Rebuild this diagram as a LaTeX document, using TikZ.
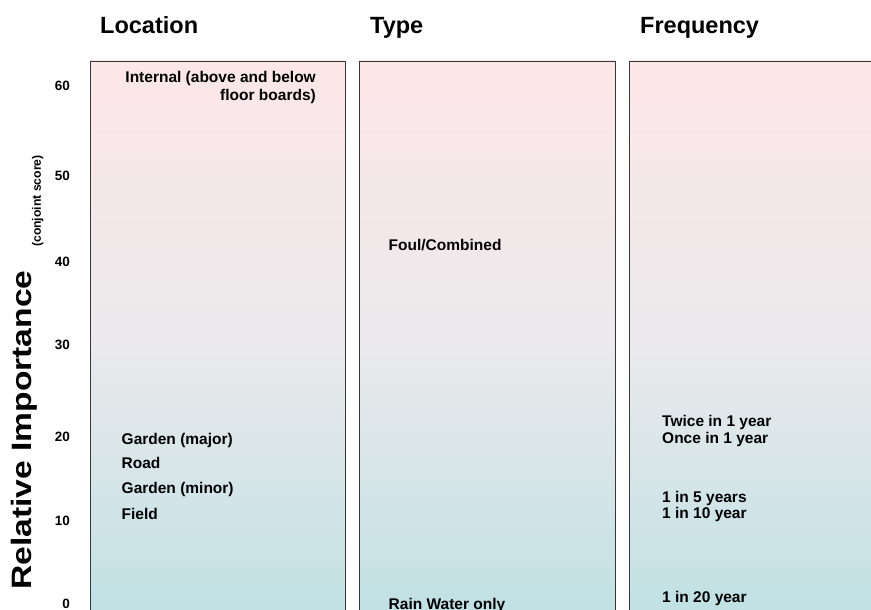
\documentclass[tikz,border=0pt]{standalone}
\usepackage{fontspec}
\setmainfont{Liberation Sans}
\usetikzlibrary{calc}
\definecolor{topc}{RGB}{253,231,232}
\definecolor{midc}{RGB}{234,233,236}
\definecolor{botc}{RGB}{188,224,227}
\definecolor{edgec}{RGB}{55,55,55}
\tikzset{
  panel/.style={draw=edgec, line width=0.9pt, top color=topc, bottom color=botc, middle color=midc},
  title/.style={font=\fontsize{23.5}{26}\selectfont\bfseries, anchor=base west, inner sep=0pt},
  lbl/.style={font=\fontsize{15.5}{17.6}\selectfont\bfseries, anchor=base west, inner sep=0pt},
  tick/.style={font=\fontsize{13.5}{15}\selectfont\bfseries, anchor=base east, inner sep=0pt},
}
\begin{document}
\begin{tikzpicture}[x=1pt,y=-1pt]
\useasboundingbox (0,0) rectangle (871,610);
\clip (0,0) rectangle (871,610);
% panels
\path[panel] (90,61) rectangle (345,640);
\path[panel] (359.5,61) rectangle (615,640);
\path[panel] (629.5,61) rectangle (900,640);
% titles
\node[title] (tloc) at (100,34) {Location};
\node[title] (ttype) at (370,34) {Type};
\node[title] (tfreq) at (640,34) {Frequency};
% axis
\node[tick] (t60) at (70,90.8) {60};
\node[tick] (t50) at (70,180.8) {50};
\node[tick] (t40) at (70,266.5) {40};
\node[tick] (t30) at (70,349.8) {30};
\node[tick] (t20) at (70,441.5) {20};
\node[tick] (t10) at (70,525.5) {10};
\node[tick] (t0) at (70,608.8) {0};
\node[rotate=90, anchor=base west, inner sep=0pt, font=\fontsize{28}{30}\selectfont\bfseries] (ylab) at (31.5,590) {\scalebox{1.2}[1]{Relative Importance}};
\node[rotate=90, anchor=base west, inner sep=0pt, font=\fontsize{12.2}{13}\selectfont\bfseries] (ysub) at (41,247) {(conjoint score)};
% location
\node[font=\fontsize{15.5}{17.6}\selectfont\bfseries, anchor=north east, inner sep=0pt, align=right] (internal) at (316,71.5) {Internal (above and below\\floor boards)};
\node[lbl] (gmaj) at (121.5,444) {Garden (major)};
\node[lbl] (road) at (121.5,468.2) {Road};
\node[lbl] (gmin) at (121.5,493.2) {Garden (minor)};
\node[lbl] (field) at (121.5,519) {Field};
% type
\node[lbl] (foul) at (388.5,250.5) {Foul/Combined};
\node[lbl] (rain) at (388.5,609) {Rain Water only};
% frequency
\node[lbl] (twice) at (662,426.2) {Twice in 1 year};
\node[lbl] (once) at (662,443.8) {Once in 1 year};
\node[lbl] (f5) at (662,502.2) {1 in 5 years};
\node[lbl] (f10) at (662,518.8) {1 in 10 year};
\node[lbl] (f20) at (662,602.8) {1 in 20 year};
\end{tikzpicture}
\end{document}
